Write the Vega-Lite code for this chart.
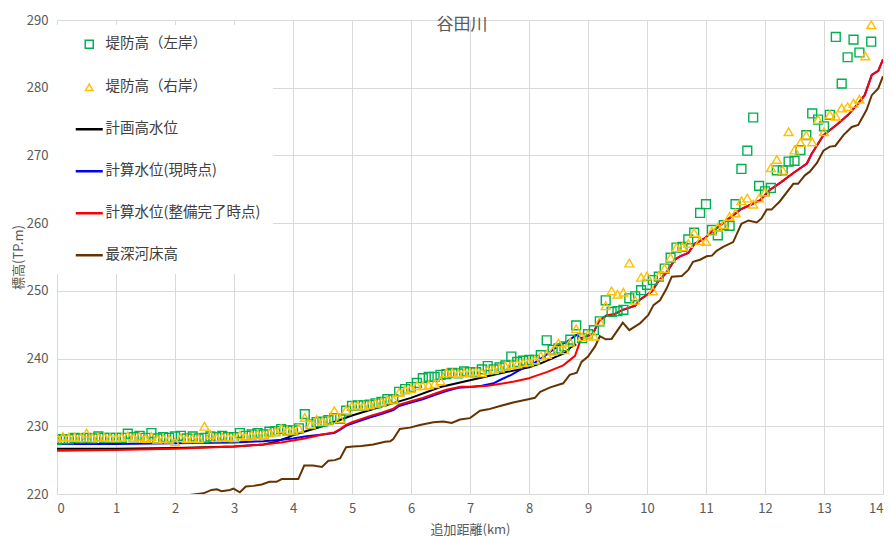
{
  "$schema": "https://vega.github.io/schema/vega-lite/v6.json",
  "width": 826,
  "height": 474,
  "autosize": "none",
  "padding": {"left": 57, "top": 20, "right": 8, "bottom": 43},
  "background": "white",
  "title": {"text": "谷田川", "anchor": "middle", "frame": "group", "baseline": "middle", "offset": -28, "dx": -8, "fontSize": 17, "font": "Noto Sans CJK JP", "fontWeight": "normal", "color": "#595959"},
  "config": {
    "view": {"stroke": null},
    "font": "Noto Sans CJK JP",
    "axis": {"gridColor": "#d9d9d9", "gridWidth": 1, "domain": false, "ticks": false, "labelColor": "#595959", "labelFontSize": 13, "titleColor": "#595959", "titleFontSize": 13, "titleFontWeight": "normal", "labelFont": "Noto Sans CJK JP", "titleFont": "Noto Sans CJK JP"}
  },
  "datasets": {
    "lines": [
      {"s":"計画高水位","x":0,"v":226.7},{"s":"計画高水位","x":1,"v":226.7},{"s":"計画高水位","x":2,"v":226.8},{"s":"計画高水位","x":3,"v":227.0},{"s":"計画高水位","x":3.5,"v":227.3},{"s":"計画高水位","x":3.7,"v":227.7},{"s":"計画高水位","x":3.9,"v":228.3},{"s":"計画高水位","x":4.0,"v":228.7},{"s":"計画高水位","x":4.3,"v":229.5},{"s":"計画高水位","x":4.5,"v":230.0},{"s":"計画高水位","x":5.0,"v":231.6},{"s":"計画高水位","x":5.5,"v":232.9},{"s":"計画高水位","x":6.0,"v":234.2},{"s":"計画高水位","x":6.5,"v":235.8},{"s":"計画高水位","x":7.0,"v":236.8},{"s":"計画高水位","x":7.5,"v":237.8},{"s":"計画高水位","x":8.0,"v":238.7},{"s":"計画高水位","x":8.2,"v":239.3},{"s":"計画高水位","x":8.6,"v":240.8},{"s":"計画高水位","x":8.7,"v":241.6},{"s":"計画高水位","x":8.8,"v":242.1},
      {"s":"計算水位(現時点)","x":0,"v":227.4},{"s":"計算水位(現時点)","x":1,"v":227.4},{"s":"計算水位(現時点)","x":2,"v":227.5},{"s":"計算水位(現時点)","x":3,"v":227.6},{"s":"計算水位(現時点)","x":3.5,"v":227.8},{"s":"計算水位(現時点)","x":3.8,"v":228.0},{"s":"計算水位(現時点)","x":4.0,"v":228.2},{"s":"計算水位(現時点)","x":4.2,"v":228.5},{"s":"計算水位(現時点)","x":4.5,"v":228.8},{"s":"計算水位(現時点)","x":4.7,"v":229.0},{"s":"計算水位(現時点)","x":4.8,"v":229.5},{"s":"計算水位(現時点)","x":4.9,"v":230.1},{"s":"計算水位(現時点)","x":5.0,"v":230.4},{"s":"計算水位(現時点)","x":5.3,"v":231.3},{"s":"計算水位(現時点)","x":5.5,"v":231.8},{"s":"計算水位(現時点)","x":5.7,"v":232.4},{"s":"計算水位(現時点)","x":5.8,"v":233.0},{"s":"計算水位(現時点)","x":6.0,"v":233.5},{"s":"計算水位(現時点)","x":6.2,"v":234.0},{"s":"計算水位(現時点)","x":6.4,"v":234.6},{"s":"計算水位(現時点)","x":6.6,"v":235.2},{"s":"計算水位(現時点)","x":6.8,"v":235.7},{"s":"計算水位(現時点)","x":7.0,"v":235.8},{"s":"計算水位(現時点)","x":7.2,"v":236.0},{"s":"計算水位(現時点)","x":7.4,"v":236.35},{"s":"計算水位(現時点)","x":7.5,"v":236.8},{"s":"計算水位(現時点)","x":7.7,"v":237.6},{"s":"計算水位(現時点)","x":7.9,"v":238.6},{"s":"計算水位(現時点)","x":8.1,"v":239.4},{"s":"計算水位(現時点)","x":8.3,"v":240.6},{"s":"計算水位(現時点)","x":8.5,"v":241.9},{"s":"計算水位(現時点)","x":8.65,"v":242.5},{"s":"計算水位(現時点)","x":8.8,"v":243.5},{"s":"計算水位(現時点)","x":8.9,"v":243.0},{"s":"計算水位(現時点)","x":9.0,"v":243.4},{"s":"計算水位(現時点)","x":9.08,"v":243.6},{"s":"計算水位(現時点)","x":9.19,"v":245.6},{"s":"計算水位(現時点)","x":9.32,"v":246.4},{"s":"計算水位(現時点)","x":9.43,"v":246.5},{"s":"計算水位(現時点)","x":9.59,"v":247.2},{"s":"計算水位(現時点)","x":9.8,"v":247.8},{"s":"計算水位(現時点)","x":9.88,"v":248.7},{"s":"計算水位(現時点)","x":10.08,"v":249.9},{"s":"計算水位(現時点)","x":10.19,"v":251.4},{"s":"計算水位(現時点)","x":10.33,"v":252.7},{"s":"計算水位(現時点)","x":10.47,"v":254.6},{"s":"計算水位(現時点)","x":10.56,"v":255.1},{"s":"計算水位(現時点)","x":10.7,"v":255.6},{"s":"計算水位(現時点)","x":10.8,"v":256.9},{"s":"計算水位(現時点)","x":10.97,"v":257.7},{"s":"計算水位(現時点)","x":11.12,"v":258.9},{"s":"計算水位(現時点)","x":11.29,"v":260.0},{"s":"計算水位(現時点)","x":11.58,"v":262.0},{"s":"計算水位(現時点)","x":11.8,"v":262.9},{"s":"計算水位(現時点)","x":11.92,"v":263.4},{"s":"計算水位(現時点)","x":12.08,"v":264.9},{"s":"計算水位(現時点)","x":12.28,"v":266.1},{"s":"計算水位(現時点)","x":12.48,"v":267.4},{"s":"計算水位(現時点)","x":12.71,"v":268.8},{"s":"計算水位(現時点)","x":12.79,"v":270.2},{"s":"計算水位(現時点)","x":12.99,"v":273.0},{"s":"計算水位(現時点)","x":13.21,"v":274.5},{"s":"計算水位(現時点)","x":13.41,"v":276.0},{"s":"計算水位(現時点)","x":13.58,"v":277.7},{"s":"計算水位(現時点)","x":13.69,"v":278.9},{"s":"計算水位(現時点)","x":13.81,"v":281.9},{"s":"計算水位(現時点)","x":13.92,"v":282.5},{"s":"計算水位(現時点)","x":14.0,"v":284.2},
      {"s":"計算水位(整備完了時点)","x":0,"v":226.4},{"s":"計算水位(整備完了時点)","x":1,"v":226.5},{"s":"計算水位(整備完了時点)","x":2,"v":226.7},{"s":"計算水位(整備完了時点)","x":3,"v":227.0},{"s":"計算水位(整備完了時点)","x":3.5,"v":227.3},{"s":"計算水位(整備完了時点)","x":3.8,"v":227.6},{"s":"計算水位(整備完了時点)","x":4.0,"v":227.9},{"s":"計算水位(整備完了時点)","x":4.2,"v":228.2},{"s":"計算水位(整備完了時点)","x":4.5,"v":228.8},{"s":"計算水位(整備完了時点)","x":4.7,"v":229.1},{"s":"計算水位(整備完了時点)","x":4.8,"v":229.6},{"s":"計算水位(整備完了時点)","x":4.9,"v":230.2},{"s":"計算水位(整備完了時点)","x":5.0,"v":230.6},{"s":"計算水位(整備完了時点)","x":5.3,"v":231.5},{"s":"計算水位(整備完了時点)","x":5.5,"v":232.0},{"s":"計算水位(整備完了時点)","x":5.7,"v":232.6},{"s":"計算水位(整備完了時点)","x":5.8,"v":233.2},{"s":"計算水位(整備完了時点)","x":6.0,"v":233.7},{"s":"計算水位(整備完了時点)","x":6.2,"v":234.2},{"s":"計算水位(整備完了時点)","x":6.4,"v":234.8},{"s":"計算水位(整備完了時点)","x":6.6,"v":235.4},{"s":"計算水位(整備完了時点)","x":6.85,"v":235.85},{"s":"計算水位(整備完了時点)","x":7.05,"v":235.85},{"s":"計算水位(整備完了時点)","x":7.3,"v":236.0},{"s":"計算水位(整備完了時点)","x":7.5,"v":236.25},{"s":"計算水位(整備完了時点)","x":7.75,"v":236.6},{"s":"計算水位(整備完了時点)","x":8.0,"v":237.1},{"s":"計算水位(整備完了時点)","x":8.1,"v":237.4},{"s":"計算水位(整備完了時点)","x":8.3,"v":238.0},{"s":"計算水位(整備完了時点)","x":8.58,"v":239.0},{"s":"計算水位(整備完了時点)","x":8.78,"v":240.4},{"s":"計算水位(整備完了時点)","x":8.86,"v":242.4},{"s":"計算水位(整備完了時点)","x":8.92,"v":243.1},{"s":"計算水位(整備完了時点)","x":9.08,"v":243.6},{"s":"計算水位(整備完了時点)","x":9.19,"v":245.6},{"s":"計算水位(整備完了時点)","x":9.32,"v":246.4},{"s":"計算水位(整備完了時点)","x":9.43,"v":246.5},{"s":"計算水位(整備完了時点)","x":9.59,"v":247.2},{"s":"計算水位(整備完了時点)","x":9.8,"v":247.8},{"s":"計算水位(整備完了時点)","x":9.88,"v":248.7},{"s":"計算水位(整備完了時点)","x":10.08,"v":249.9},{"s":"計算水位(整備完了時点)","x":10.19,"v":251.4},{"s":"計算水位(整備完了時点)","x":10.33,"v":252.7},{"s":"計算水位(整備完了時点)","x":10.47,"v":254.6},{"s":"計算水位(整備完了時点)","x":10.56,"v":255.1},{"s":"計算水位(整備完了時点)","x":10.7,"v":255.6},{"s":"計算水位(整備完了時点)","x":10.8,"v":256.9},{"s":"計算水位(整備完了時点)","x":10.97,"v":257.7},{"s":"計算水位(整備完了時点)","x":11.12,"v":258.9},{"s":"計算水位(整備完了時点)","x":11.29,"v":260.0},{"s":"計算水位(整備完了時点)","x":11.58,"v":262.0},{"s":"計算水位(整備完了時点)","x":11.8,"v":262.9},{"s":"計算水位(整備完了時点)","x":11.92,"v":263.4},{"s":"計算水位(整備完了時点)","x":12.08,"v":264.9},{"s":"計算水位(整備完了時点)","x":12.28,"v":266.1},{"s":"計算水位(整備完了時点)","x":12.48,"v":267.4},{"s":"計算水位(整備完了時点)","x":12.71,"v":268.8},{"s":"計算水位(整備完了時点)","x":12.79,"v":270.2},{"s":"計算水位(整備完了時点)","x":12.99,"v":273.0},{"s":"計算水位(整備完了時点)","x":13.21,"v":274.5},{"s":"計算水位(整備完了時点)","x":13.41,"v":276.0},{"s":"計算水位(整備完了時点)","x":13.58,"v":277.7},{"s":"計算水位(整備完了時点)","x":13.69,"v":278.9},{"s":"計算水位(整備完了時点)","x":13.81,"v":281.9},{"s":"計算水位(整備完了時点)","x":13.92,"v":282.5},{"s":"計算水位(整備完了時点)","x":14.0,"v":284.2},
      {"s":"最深河床高","x":2.0,"v":219.4},{"s":"最深河床高","x":2.1,"v":219.7},{"s":"最深河床高","x":2.48,"v":220.1},{"s":"最深河床高","x":2.62,"v":220.6},{"s":"最深河床高","x":2.71,"v":220.7},{"s":"最深河床高","x":2.79,"v":220.4},{"s":"最深河床高","x":2.93,"v":220.6},{"s":"最深河床高","x":2.99,"v":220.8},{"s":"最深河床高","x":3.1,"v":220.25},{"s":"最深河床高","x":3.2,"v":221.1},{"s":"最深河床高","x":3.33,"v":221.2},{"s":"最深河床高","x":3.47,"v":221.4},{"s":"最深河床高","x":3.6,"v":221.8},{"s":"最深河床高","x":3.72,"v":221.8},{"s":"最深河床高","x":3.81,"v":222.2},{"s":"最深河床高","x":3.95,"v":222.2},{"s":"最深河床高","x":4.09,"v":222.2},{"s":"最深河床高","x":4.19,"v":224.2},{"s":"最深河床高","x":4.34,"v":224.2},{"s":"最深河床高","x":4.49,"v":224.0},{"s":"最深河床高","x":4.6,"v":224.9},{"s":"最深河床高","x":4.71,"v":225.0},{"s":"最深河床高","x":4.8,"v":225.3},{"s":"最深河床高","x":4.9,"v":226.9},{"s":"最深河床高","x":5.02,"v":227.0},{"s":"最深河床高","x":5.16,"v":227.1},{"s":"最深河床高","x":5.36,"v":227.3},{"s":"最深河床高","x":5.56,"v":227.7},{"s":"最深河床高","x":5.65,"v":227.8},{"s":"最深河床高","x":5.7,"v":228.1},{"s":"最深河床高","x":5.81,"v":229.6},{"s":"最深河床高","x":5.98,"v":229.8},{"s":"最深河床高","x":6.15,"v":230.2},{"s":"最深河床高","x":6.38,"v":230.6},{"s":"最深河床高","x":6.55,"v":230.7},{"s":"最深河床高","x":6.69,"v":230.5},{"s":"最深河床高","x":6.83,"v":231.0},{"s":"最深河床高","x":7.0,"v":231.2},{"s":"最深河床高","x":7.17,"v":232.3},{"s":"最深河床高","x":7.31,"v":232.5},{"s":"最深河床高","x":7.51,"v":233.0},{"s":"最深河床高","x":7.73,"v":233.5},{"s":"最深河床高","x":7.99,"v":234.0},{"s":"最深河床高","x":8.1,"v":234.2},{"s":"最深河床高","x":8.19,"v":235.1},{"s":"最深河床高","x":8.36,"v":235.75},{"s":"最深河床高","x":8.58,"v":236.35},{"s":"最深河床高","x":8.69,"v":237.6},{"s":"最深河床高","x":8.81,"v":237.9},{"s":"最深河床高","x":8.89,"v":239.5},{"s":"最深河床高","x":9.0,"v":240.3},{"s":"最深河床高","x":9.12,"v":241.8},{"s":"最深河床高","x":9.2,"v":243.3},{"s":"最深河床高","x":9.3,"v":242.85},{"s":"最深河床高","x":9.4,"v":242.9},{"s":"最深河床高","x":9.59,"v":245.3},{"s":"最深河床高","x":9.7,"v":244.2},{"s":"最深河床高","x":9.88,"v":245.2},{"s":"最深河床高","x":10.02,"v":246.4},{"s":"最深河床高","x":10.11,"v":247.9},{"s":"最深河床高","x":10.22,"v":248.6},{"s":"最深河床高","x":10.33,"v":250.3},{"s":"最深河床高","x":10.42,"v":252.1},{"s":"最深河床高","x":10.59,"v":252.2},{"s":"最深河床高","x":10.7,"v":253.1},{"s":"最深河床高","x":10.78,"v":254.3},{"s":"最深河床高","x":10.9,"v":254.6},{"s":"最深河床高","x":11.01,"v":255.1},{"s":"最深河床高","x":11.1,"v":255.2},{"s":"最深河床高","x":11.18,"v":255.9},{"s":"最深河床高","x":11.29,"v":256.5},{"s":"最深河床高","x":11.46,"v":257.2},{"s":"最深河床高","x":11.6,"v":259.9},{"s":"最深河床高","x":11.72,"v":260.4},{"s":"最深河床高","x":11.86,"v":260.1},{"s":"最深河床高","x":11.94,"v":260.7},{"s":"最深河床高","x":12.03,"v":262.0},{"s":"最深河床高","x":12.11,"v":262.0},{"s":"最深河床高","x":12.25,"v":263.2},{"s":"最深河床高","x":12.48,"v":265.8},{"s":"最深河床高","x":12.56,"v":265.8},{"s":"最深河床高","x":12.68,"v":267.1},{"s":"最深河床高","x":12.76,"v":267.6},{"s":"最深河床高","x":12.88,"v":268.9},{"s":"最深河床高","x":12.99,"v":270.7},{"s":"最深河床高","x":13.1,"v":271.3},{"s":"最深河床高","x":13.19,"v":271.4},{"s":"最深河床高","x":13.33,"v":273.0},{"s":"最深河床高","x":13.47,"v":274.2},{"s":"最深河床高","x":13.58,"v":274.5},{"s":"最深河床高","x":13.72,"v":276.7},{"s":"最深河床高","x":13.81,"v":278.9},{"s":"最深河床高","x":13.92,"v":279.9},{"s":"最深河床高","x":14.0,"v":281.7}
    ],
    "banks": [
      {"s":"堤防高（左岸）","x":0.0,"v":228.0},{"s":"堤防高（左岸）","x":0.1,"v":228.1},{"s":"堤防高（左岸）","x":0.2,"v":228.1},{"s":"堤防高（左岸）","x":0.3,"v":228.3},{"s":"堤防高（左岸）","x":0.4,"v":228.2},{"s":"堤防高（左岸）","x":0.5,"v":228.3},{"s":"堤防高（左岸）","x":0.6,"v":228.2},{"s":"堤防高（左岸）","x":0.7,"v":228.5},{"s":"堤防高（左岸）","x":0.8,"v":228.3},{"s":"堤防高（左岸）","x":0.9,"v":228.3},{"s":"堤防高（左岸）","x":1.0,"v":228.3},{"s":"堤防高（左岸）","x":1.1,"v":228.3},{"s":"堤防高（左岸）","x":1.2,"v":228.9},{"s":"堤防高（左岸）","x":1.3,"v":228.4},{"s":"堤防高（左岸）","x":1.4,"v":228.6},{"s":"堤防高（左岸）","x":1.5,"v":228.3},{"s":"堤防高（左岸）","x":1.6,"v":229.0},{"s":"堤防高（左岸）","x":1.7,"v":228.2},{"s":"堤防高（左岸）","x":1.8,"v":228.4},{"s":"堤防高（左岸）","x":1.9,"v":228.3},{"s":"堤防高（左岸）","x":2.0,"v":228.5},{"s":"堤防高（左岸）","x":2.1,"v":228.6},{"s":"堤防高（左岸）","x":2.2,"v":228.2},{"s":"堤防高（左岸）","x":2.3,"v":228.5},{"s":"堤防高（左岸）","x":2.4,"v":228.2},{"s":"堤防高（左岸）","x":2.5,"v":228.3},{"s":"堤防高（左岸）","x":2.6,"v":228.5},{"s":"堤防高（左岸）","x":2.7,"v":228.4},{"s":"堤防高（左岸）","x":2.8,"v":228.6},{"s":"堤防高（左岸）","x":2.9,"v":228.4},{"s":"堤防高（左岸）","x":3.0,"v":228.4},{"s":"堤防高（左岸）","x":3.1,"v":229.0},{"s":"堤防高（左岸）","x":3.2,"v":228.6},{"s":"堤防高（左岸）","x":3.3,"v":228.8},{"s":"堤防高（左岸）","x":3.4,"v":229.0},{"s":"堤防高（左岸）","x":3.5,"v":228.8},{"s":"堤防高（左岸）","x":3.6,"v":229.2},{"s":"堤防高（左岸）","x":3.7,"v":229.3},{"s":"堤防高（左岸）","x":3.8,"v":229.6},{"s":"堤防高（左岸）","x":3.9,"v":229.4},{"s":"堤防高（左岸）","x":4.0,"v":229.4},{"s":"堤防高（左岸）","x":4.1,"v":229.7},{"s":"堤防高（左岸）","x":4.2,"v":231.8},{"s":"堤防高（左岸）","x":4.3,"v":230.3},{"s":"堤防高（左岸）","x":4.4,"v":230.6},{"s":"堤防高（左岸）","x":4.5,"v":230.7},{"s":"堤防高（左岸）","x":4.6,"v":230.9},{"s":"堤防高（左岸）","x":4.7,"v":231.2},{"s":"堤防高（左岸）","x":4.8,"v":231.1},{"s":"堤防高（左岸）","x":4.9,"v":232.3},{"s":"堤防高（左岸）","x":5.0,"v":233.0},{"s":"堤防高（左岸）","x":5.1,"v":233.1},{"s":"堤防高（左岸）","x":5.2,"v":233.1},{"s":"堤防高（左岸）","x":5.3,"v":233.2},{"s":"堤防高（左岸）","x":5.4,"v":233.4},{"s":"堤防高（左岸）","x":5.5,"v":233.6},{"s":"堤防高（左岸）","x":5.6,"v":234.0},{"s":"堤防高（左岸）","x":5.7,"v":234.0},{"s":"堤防高（左岸）","x":5.8,"v":235.1},{"s":"堤防高（左岸）","x":5.9,"v":235.5},{"s":"堤防高（左岸）","x":6.0,"v":235.8},{"s":"堤防高（左岸）","x":6.1,"v":236.4},{"s":"堤防高（左岸）","x":6.2,"v":237.1},{"s":"堤防高（左岸）","x":6.3,"v":237.3},{"s":"堤防高（左岸）","x":6.4,"v":237.3},{"s":"堤防高（左岸）","x":6.5,"v":237.6},{"s":"堤防高（左岸）","x":6.6,"v":237.7},{"s":"堤防高（左岸）","x":6.7,"v":237.9},{"s":"堤防高（左岸）","x":6.8,"v":237.8},{"s":"堤防高（左岸）","x":6.9,"v":238.1},{"s":"堤防高（左岸）","x":7.0,"v":238.0},{"s":"堤防高（左岸）","x":7.1,"v":238.0},{"s":"堤防高（左岸）","x":7.2,"v":238.4},{"s":"堤防高（左岸）","x":7.3,"v":238.9},{"s":"堤防高（左岸）","x":7.4,"v":238.4},{"s":"堤防高（左岸）","x":7.5,"v":238.7},{"s":"堤防高（左岸）","x":7.6,"v":239.0},{"s":"堤防高（左岸）","x":7.7,"v":240.3},{"s":"堤防高（左岸）","x":7.8,"v":239.5},{"s":"堤防高（左岸）","x":7.9,"v":239.7},{"s":"堤防高（左岸）","x":8.0,"v":239.8},{"s":"堤防高（左岸）","x":8.1,"v":239.8},{"s":"堤防高（左岸）","x":8.2,"v":240.5},{"s":"堤防高（左岸）","x":8.3,"v":242.7},{"s":"堤防高（左岸）","x":8.4,"v":241.3},{"s":"堤防高（左岸）","x":8.5,"v":241.5},{"s":"堤防高（左岸）","x":8.6,"v":241.8},{"s":"堤防高（左岸）","x":8.7,"v":242.8},{"s":"堤防高（左岸）","x":8.8,"v":244.9},{"s":"堤防高（左岸）","x":8.9,"v":243.0},{"s":"堤防高（左岸）","x":9.0,"v":243.6},{"s":"堤防高（左岸）","x":9.1,"v":244.2},{"s":"堤防高（左岸）","x":9.2,"v":245.5},{"s":"堤防高（左岸）","x":9.3,"v":248.6},{"s":"堤防高（左岸）","x":9.4,"v":246.9},{"s":"堤防高（左岸）","x":9.5,"v":247.0},{"s":"堤防高（左岸）","x":9.6,"v":247.2},{"s":"堤防高（左岸）","x":9.7,"v":248.9},{"s":"堤防高（左岸）","x":9.8,"v":249.2},{"s":"堤防高（左岸）","x":9.9,"v":250.1},{"s":"堤防高（左岸）","x":10.0,"v":250.9},{"s":"堤防高（左岸）","x":10.1,"v":251.6},{"s":"堤防高（左岸）","x":10.2,"v":252.1},{"s":"堤防高（左岸）","x":10.3,"v":253.3},{"s":"堤防高（左岸）","x":10.4,"v":254.9},{"s":"堤防高（左岸）","x":10.5,"v":256.4},{"s":"堤防高（左岸）","x":10.6,"v":256.5},{"s":"堤防高（左岸）","x":10.7,"v":257.6},{"s":"堤防高（左岸）","x":10.8,"v":258.6},{"s":"堤防高（左岸）","x":10.9,"v":261.5},{"s":"堤防高（左岸）","x":11.0,"v":262.8},{"s":"堤防高（左岸）","x":11.1,"v":259.0},{"s":"堤防高（左岸）","x":11.2,"v":258.2},{"s":"堤防高（左岸）","x":11.3,"v":259.7},{"s":"堤防高（左岸）","x":11.4,"v":259.6},{"s":"堤防高（左岸）","x":11.5,"v":262.8},{"s":"堤防高（左岸）","x":11.6,"v":268.0},{"s":"堤防高（左岸）","x":11.7,"v":270.7},{"s":"堤防高（左岸）","x":11.8,"v":275.6},{"s":"堤防高（左岸）","x":11.9,"v":265.5},{"s":"堤防高（左岸）","x":12.0,"v":264.7},{"s":"堤防高（左岸）","x":12.1,"v":265.2},{"s":"堤防高（左岸）","x":12.2,"v":267.8},{"s":"堤防高（左岸）","x":12.3,"v":267.8},{"s":"堤防高（左岸）","x":12.4,"v":269.1},{"s":"堤防高（左岸）","x":12.5,"v":269.2},{"s":"堤防高（左岸）","x":12.6,"v":270.8},{"s":"堤防高（左岸）","x":12.7,"v":273.0},{"s":"堤防高（左岸）","x":12.8,"v":276.2},{"s":"堤防高（左岸）","x":12.9,"v":275.3},{"s":"堤防高（左岸）","x":13.0,"v":274.3},{"s":"堤防高（左岸）","x":13.1,"v":276.0},{"s":"堤防高（左岸）","x":13.2,"v":287.5},{"s":"堤防高（左岸）","x":13.3,"v":280.6},{"s":"堤防高（左岸）","x":13.4,"v":284.5},{"s":"堤防高（左岸）","x":13.5,"v":287.1},{"s":"堤防高（左岸）","x":13.6,"v":285.2},{"s":"堤防高（左岸）","x":13.8,"v":286.8},
      {"s":"堤防高（右岸）","x":0.0,"v":228.3},{"s":"堤防高（右岸）","x":0.1,"v":228.5},{"s":"堤防高（右岸）","x":0.2,"v":228.4},{"s":"堤防高（右岸）","x":0.3,"v":228.4},{"s":"堤防高（右岸）","x":0.4,"v":228.3},{"s":"堤防高（右岸）","x":0.5,"v":229.0},{"s":"堤防高（右岸）","x":0.6,"v":228.3},{"s":"堤防高（右岸）","x":0.7,"v":228.4},{"s":"堤防高（右岸）","x":0.8,"v":228.4},{"s":"堤防高（右岸）","x":0.9,"v":228.3},{"s":"堤防高（右岸）","x":1.0,"v":228.3},{"s":"堤防高（右岸）","x":1.1,"v":228.4},{"s":"堤防高（右岸）","x":1.2,"v":228.6},{"s":"堤防高（右岸）","x":1.3,"v":228.3},{"s":"堤防高（右岸）","x":1.4,"v":228.5},{"s":"堤防高（右岸）","x":1.5,"v":228.2},{"s":"堤防高（右岸）","x":1.6,"v":228.5},{"s":"堤防高（右岸）","x":1.7,"v":228.1},{"s":"堤防高（右岸）","x":1.8,"v":228.2},{"s":"堤防高（右岸）","x":1.9,"v":228.1},{"s":"堤防高（右岸）","x":2.0,"v":227.7},{"s":"堤防高（右岸）","x":2.1,"v":228.3},{"s":"堤防高（右岸）","x":2.2,"v":228.2},{"s":"堤防高（右岸）","x":2.3,"v":228.2},{"s":"堤防高（右岸）","x":2.4,"v":228.2},{"s":"堤防高（右岸）","x":2.5,"v":230.0},{"s":"堤防高（右岸）","x":2.6,"v":228.8},{"s":"堤防高（右岸）","x":2.7,"v":228.3},{"s":"堤防高（右岸）","x":2.8,"v":228.4},{"s":"堤防高（右岸）","x":2.9,"v":228.4},{"s":"堤防高（右岸）","x":3.0,"v":228.3},{"s":"堤防高（右岸）","x":3.1,"v":228.7},{"s":"堤防高（右岸）","x":3.2,"v":228.5},{"s":"堤防高（右岸）","x":3.3,"v":228.7},{"s":"堤防高（右岸）","x":3.4,"v":228.8},{"s":"堤防高（右岸）","x":3.5,"v":228.8},{"s":"堤防高（右岸）","x":3.6,"v":229.0},{"s":"堤防高（右岸）","x":3.7,"v":229.2},{"s":"堤防高（右岸）","x":3.8,"v":229.7},{"s":"堤防高（右岸）","x":3.9,"v":229.4},{"s":"堤防高（右岸）","x":4.0,"v":229.4},{"s":"堤防高（右岸）","x":4.1,"v":229.7},{"s":"堤防高（右岸）","x":4.2,"v":231.3},{"s":"堤防高（右岸）","x":4.3,"v":230.3},{"s":"堤防高（右岸）","x":4.4,"v":231.0},{"s":"堤防高（右岸）","x":4.5,"v":230.7},{"s":"堤防高（右岸）","x":4.6,"v":230.9},{"s":"堤防高（右岸）","x":4.7,"v":232.3},{"s":"堤防高（右岸）","x":4.8,"v":231.1},{"s":"堤防高（右岸）","x":4.9,"v":232.4},{"s":"堤防高（右岸）","x":5.0,"v":233.0},{"s":"堤防高（右岸）","x":5.1,"v":233.1},{"s":"堤防高（右岸）","x":5.2,"v":233.0},{"s":"堤防高（右岸）","x":5.3,"v":233.2},{"s":"堤防高（右岸）","x":5.4,"v":233.4},{"s":"堤防高（右岸）","x":5.5,"v":233.6},{"s":"堤防高（右岸）","x":5.6,"v":233.9},{"s":"堤防高（右岸）","x":5.7,"v":234.0},{"s":"堤防高（右岸）","x":5.8,"v":235.0},{"s":"堤防高（右岸）","x":5.9,"v":235.4},{"s":"堤防高（右岸）","x":6.0,"v":235.6},{"s":"堤防高（右岸）","x":6.1,"v":236.0},{"s":"堤防高（右岸）","x":6.2,"v":236.0},{"s":"堤防高（右岸）","x":6.3,"v":236.1},{"s":"堤防高（右岸）","x":6.4,"v":236.3},{"s":"堤防高（右岸）","x":6.5,"v":236.7},{"s":"堤防高（右岸）","x":6.6,"v":237.9},{"s":"堤防高（右岸）","x":6.7,"v":237.9},{"s":"堤防高（右岸）","x":6.8,"v":237.8},{"s":"堤防高（右岸）","x":6.9,"v":237.9},{"s":"堤防高（右岸）","x":7.0,"v":238.0},{"s":"堤防高（右岸）","x":7.1,"v":238.1},{"s":"堤防高（右岸）","x":7.2,"v":237.9},{"s":"堤防高（右岸）","x":7.3,"v":238.3},{"s":"堤防高（右岸）","x":7.4,"v":238.4},{"s":"堤防高（右岸）","x":7.5,"v":238.6},{"s":"堤防高（右岸）","x":7.6,"v":238.9},{"s":"堤防高（右岸）","x":7.7,"v":239.1},{"s":"堤防高（右岸）","x":7.8,"v":239.2},{"s":"堤防高（右岸）","x":7.9,"v":239.4},{"s":"堤防高（右岸）","x":8.0,"v":239.5},{"s":"堤防高（右岸）","x":8.1,"v":239.8},{"s":"堤防高（右岸）","x":8.2,"v":240.4},{"s":"堤防高（右岸）","x":8.3,"v":240.6},{"s":"堤防高（右岸）","x":8.4,"v":241.1},{"s":"堤防高（右岸）","x":8.5,"v":242.3},{"s":"堤防高（右岸）","x":8.6,"v":241.3},{"s":"堤防高（右岸）","x":8.7,"v":242.4},{"s":"堤防高（右岸）","x":8.8,"v":244.4},{"s":"堤防高（右岸）","x":8.9,"v":243.2},{"s":"堤防高（右岸）","x":9.0,"v":243.6},{"s":"堤防高（右岸）","x":9.1,"v":243.3},{"s":"堤防高（右岸）","x":9.2,"v":245.5},{"s":"堤防高（右岸）","x":9.3,"v":247.8},{"s":"堤防高（右岸）","x":9.4,"v":250.0},{"s":"堤防高（右岸）","x":9.5,"v":249.5},{"s":"堤防高（右岸）","x":9.6,"v":249.8},{"s":"堤防高（右岸）","x":9.7,"v":254.1},{"s":"堤防高（右岸）","x":9.8,"v":248.6},{"s":"堤防高（右岸）","x":9.9,"v":252.0},{"s":"堤防高（右岸）","x":10.0,"v":252.2},{"s":"堤防高（右岸）","x":10.1,"v":250.0},{"s":"堤防高（右岸）","x":10.2,"v":252.2},{"s":"堤防高（右岸）","x":10.3,"v":253.3},{"s":"堤防高（右岸）","x":10.4,"v":254.9},{"s":"堤防高（右岸）","x":10.5,"v":256.4},{"s":"堤防高（右岸）","x":10.6,"v":256.5},{"s":"堤防高（右岸）","x":10.7,"v":257.0},{"s":"堤防高（右岸）","x":10.8,"v":258.6},{"s":"堤防高（右岸）","x":10.9,"v":257.4},{"s":"堤防高（右岸）","x":11.0,"v":257.3},{"s":"堤防高（右岸）","x":11.1,"v":258.8},{"s":"堤防高（右岸）","x":11.2,"v":259.4},{"s":"堤防高（右岸）","x":11.3,"v":259.8},{"s":"堤防高（右岸）","x":11.4,"v":261.0},{"s":"堤防高（右岸）","x":11.5,"v":261.5},{"s":"堤防高（右岸）","x":11.6,"v":263.3},{"s":"堤防高（右岸）","x":11.7,"v":263.7},{"s":"堤防高（右岸）","x":11.8,"v":262.8},{"s":"堤防高（右岸）","x":11.9,"v":263.7},{"s":"堤防高（右岸）","x":12.0,"v":264.6},{"s":"堤防高（右岸）","x":12.1,"v":268.2},{"s":"堤防高（右岸）","x":12.2,"v":269.4},{"s":"堤防高（右岸）","x":12.3,"v":267.8},{"s":"堤防高（右岸）","x":12.4,"v":273.5},{"s":"堤防高（右岸）","x":12.5,"v":270.8},{"s":"堤防高（右岸）","x":12.6,"v":271.9},{"s":"堤防高（右岸）","x":12.7,"v":273.0},{"s":"堤防高（右岸）","x":12.8,"v":272.0},{"s":"堤防高（右岸）","x":12.9,"v":275.3},{"s":"堤防高（右岸）","x":13.0,"v":273.5},{"s":"堤防高（右岸）","x":13.1,"v":276.0},{"s":"堤防高（右岸）","x":13.2,"v":275.8},{"s":"堤防高（右岸）","x":13.3,"v":277.0},{"s":"堤防高（右岸）","x":13.4,"v":277.2},{"s":"堤防高（右岸）","x":13.5,"v":277.7},{"s":"堤防高（右岸）","x":13.6,"v":278.3},{"s":"堤防高（右岸）","x":13.7,"v":284.7},{"s":"堤防高（右岸）","x":13.8,"v":289.3}
    ]
  },
  "layer": [
    {
      "data": {"name": "lines"},
      "mark": {"type": "line", "strokeWidth": 2, "clip": true},
      "encoding": {
        "x": {"field": "x", "type": "quantitative", "scale": {"domain": [0, 14], "nice": false, "zero": false}, "axis": {"title": "追加距離(km)", "values": [0,1,2,3,4,5,6,7,8,9,10,11,12,13,14], "format": "d", "labelPadding": 8, "titlePadding": 8, "grid": true}},
        "y": {"field": "v", "type": "quantitative", "scale": {"domain": [220, 290], "nice": false, "zero": false}, "axis": {"title": "標高(TP.m)", "values": [220,230,240,250,260,270,280,290], "format": "d", "labelPadding": 9, "titlePadding": 1, "grid": true}},
        "color": {"field": "s", "type": "nominal", "sort": null, "scale": {"domain": ["堤防高（左岸）","堤防高（右岸）","計画高水位","計算水位(現時点)","計算水位(整備完了時点)","最深河床高"], "range": ["#00B050","#FFC000","#000000","#0000FF","#FF0000","#663300"]},
          "legend": {"title": null, "orient": "none", "legendX": 0, "legendY": 5, "fillColor": "white", "padding": 12, "rowPadding": 27, "symbolOffset": 13, "labelOffset": 9, "labelFontSize": 14.5, "labelColor": "#404040", "labelFont": "Noto Sans CJK JP", "labelLimit": 300, "symbolSize": 729, "symbolStrokeWidth": 2.5,
            "encode": {"symbols": {"update": {"fill": {"value": "transparent"}, "size": {"signal": "datum.value === '堤防高（左岸）' ? 64 : datum.value === '堤防高（右岸）' ? 55 : 729"}, "strokeWidth": {"signal": "indexof(['堤防高（左岸）','堤防高（右岸）'], datum.value) >= 0 ? 1.5 : 2.5"}}}}}}
      }
    },
    {
      "data": {"name": "banks"},
      "mark": {"type": "point", "filled": false, "strokeWidth": 1.4, "opacity": 1, "size": 78, "clip": true},
      "encoding": {
        "x": {"field": "x", "type": "quantitative"},
        "y": {"field": "v", "type": "quantitative"},
        "color": {"field": "s", "type": "nominal"},
        "shape": {"field": "s", "type": "nominal", "scale": {"domain": ["堤防高（左岸）","堤防高（右岸）","計画高水位","計算水位(現時点)","計算水位(整備完了時点)","最深河床高"], "range": ["square","triangle-up","stroke","stroke","stroke","stroke"]}}
      }
    }
  ]
}
